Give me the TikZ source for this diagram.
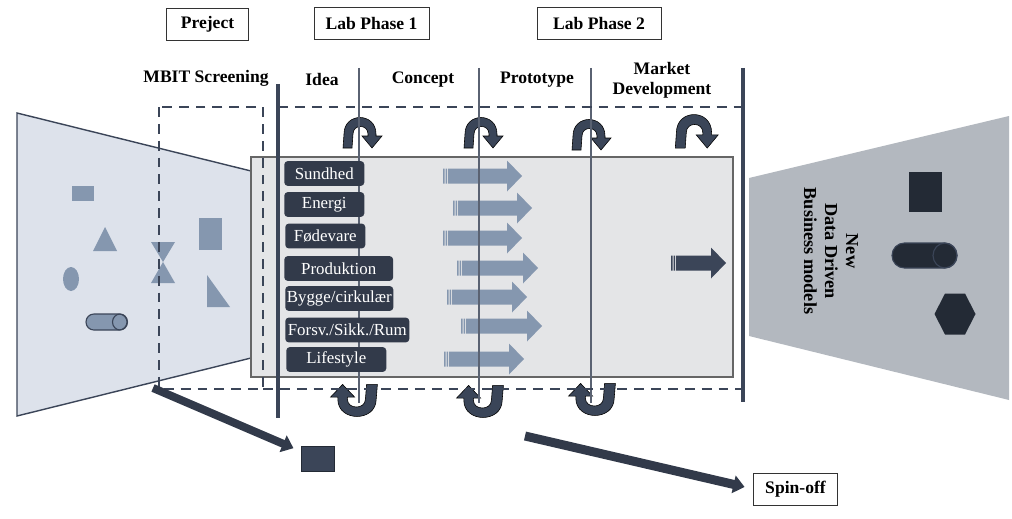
\documentclass[tikz,border=0pt]{standalone}
\usepackage{fontspec}
\setmainfont{Liberation Serif}
\usetikzlibrary{arrows.meta}
\definecolor{navy}{HTML}{323A4A}
\definecolor{navyline}{HTML}{3B4558}
\definecolor{steel}{HTML}{8597AF}
\definecolor{paleblue}{HTML}{DDE2EB}
\definecolor{boxgray}{HTML}{E4E5E7}
\definecolor{slate}{HTML}{B3B8BF}
\definecolor{ink}{HTML}{232A35}
\definecolor{turncol}{HTML}{3A4558}
\definecolor{thinline}{HTML}{5A6272}
\tikzset{
 topic/.style={fill=navy, text=white, rounded corners=2.5pt, anchor=west,
  minimum height=0.62cm, inner sep=0pt, font=\fontsize{12}{14}\selectfont},
 phasebox/.style={draw=black!80, line width=0.6pt, minimum height=0.78cm,
  inner sep=0pt, font=\fontsize{12.5}{15}\bfseries\selectfont},
 phase/.style={font=\fontsize{12.5}{14.2}\bfseries\selectfont, align=center},
 pics/stripe/.style={code={
  \fill (0,-7.5) rectangle (1.5,7.5) (2.5,-7.5) rectangle (4,7.5);
  \fill (5,-7.5) -- (#1-15,-7.5) -- (#1-15,-15.5) -- (#1,0) -- (#1-15,15.5)
   -- (#1-15,7.5) -- (5,7.5) -- cycle;}}
}
\begin{document}
\begin{tikzpicture}[x=0.025cm,y=-0.025cm,
 uturn/.pic={\filldraw[fill=turncol,draw=black,line width=0.4pt]
  (-17,31) -- (-16,17) .. controls (-16,-5) and (16,-5) .. (16,17) -- (16,19)
  -- (22,19) -- (12,31) -- (2,19) -- (8,19) -- (8,17)
  .. controls (8,7) and (-7,7) .. (-7,17) -- (-8,31) -- cycle;}]
 \useasboundingbox (0,0) rectangle (1012,519);
 % funnels
 \filldraw[fill=paleblue,draw=navyline,line width=1pt]
  (17,113) -- (251,171) -- (251,358) -- (17,416) -- cycle;
 \fill[slate] (749,178) -- (1009,116) -- (1009,400) -- (749,336) -- cycle;
 % ideas going in
 \begin{scope}[steel]
 \fill (72,186) rectangle (94,201);
 \fill (105,227) -- (117,251) -- (93,251) -- cycle;
 \fill (71,279) ellipse [x radius=8,y radius=12];
 \fill (151,242) -- (175,242) -- (163,262) -- cycle;
 \fill (163,262) -- (175,283) -- (151,283) -- cycle;
 \fill (199,218) rectangle (222,250);
 \fill (207,275) -- (230,307) -- (207,307) -- cycle;
 \filldraw[draw=navyline,line width=0.8pt,rounded corners=5.6pt] (86,314) rectangle (127,330);
 \draw[navyline,line width=0.8pt] (120,322) ellipse [x radius=7.5,y radius=8];
 \end{scope}
 % models coming out
 \fill[ink] (909,172) rectangle (942,212);
 \filldraw[fill=ink,draw=navyline,line width=0.8pt,rounded corners=8.8pt] (892,243) rectangle (957,268);
 \draw[navyline,line width=0.8pt] (945,255.5) ellipse [x radius=12,y radius=12.5];
 \fill[ink] (934.5,314) -- (945,293.5) -- (965,293.5) -- (975.5,314)
  -- (965,334.5) -- (945,334.5) -- cycle;
 \node[rotate=-90,align=center,font=\fontsize{13}{15}\bfseries\selectfont]
  (ddbm) at (831,251) {New\\Data Driven\\Business models};
 % lab
 \filldraw[fill=boxgray,draw=black!60,line width=0.8pt] (251,157) rectangle (733,377);
 \begin{scope}[color=steel]
 \pic at (443,176) {stripe=79};
 \pic at (453,208) {stripe=79};
 \pic at (443,238) {stripe=79};
 \pic at (457,268) {stripe=81};
 \pic at (447,297) {stripe=80};
 \pic at (461,326) {stripe=81};
 \pic at (444,359) {stripe=80};
 \end{scope}
 \pic[color=navyline] at (671,263) {stripe=55};
 \path
 (360,117) pic {uturn}
 (481,117) pic {uturn}
 (589,119) pic {uturn}
 (694,114) pic[scale=1.1] {uturn}
 (357,417) pic[rotate=180,xscale=1.2,yscale=1.05] {uturn}
 (483,418) pic[rotate=180,xscale=1.2,yscale=1.05] {uturn}
 (595,416) pic[rotate=180,xscale=1.2,yscale=1.05] {uturn};
 \draw[thinline,line width=0.8pt]
  (359,68)--(359,403) (479,68)--(479,403) (591,68)--(591,403);
 \path
 (284,173.5) node[topic,minimum width=2cm] (sund) {Sundhed}
 (284,204.5) node[topic,minimum width=2cm] (ener) {Energi}
 (285,236) node[topic,minimum width=2cm] (fode) {Fødevare}
 (284,268.5) node[topic,minimum width=2.72cm] (prod) {Produktion}
 (285,298.5) node[topic,minimum width=2.7cm] (bygg) {Bygge/cirkulær}
 (285,330) node[topic,minimum width=3.1cm] (fors) {Forsv./Sikk./Rum}
 (286,359.5) node[topic,minimum width=2.5cm] (life) {Lifestyle};
 % phase borders
 \begin{scope}[navyline,line width=2.1pt,dash pattern=on 7pt off 5pt]
 \draw (159,107) rectangle (263,389);
 \draw (278,107) -- (743,107);
 \draw (263,389) -- (743,389);
 \end{scope}
 \draw[navyline,line width=2.8pt] (278,84) -- (278,418) (743,68) -- (743,402);
 \path
 (206,78) node[phase] (mbit) {MBIT Screening}
 (322,79) node[phase] (idea) {Idea}
 (423,80) node[phase] (conc) {Concept}
 (537,80) node[phase] (prot) {Prototype}
 (662,80) node[phase] (mark) {Market\\Development};
 \node[phasebox,minimum width=2.03cm,minimum height=0.8cm] (proj) at (207.5,24) {Preject};
 \node[phasebox,minimum width=2.875cm] (lab1) at (371.5,23.5) {Lab Phase 1};
 \node[phasebox,minimum width=3.1cm] (lab2) at (599,23.5) {Lab Phase 2};
 \node[phasebox,minimum width=2.08cm,minimum height=0.8cm] (spin) at (795.5,489) {Spin-off};
 % outcomes
 \node[draw=ink,fill=navyline,line width=0.6pt,minimum width=0.825cm,
  minimum height=0.625cm,inner sep=0pt] (cube) at (317.5,458.5) {};
 \coordinate (mbitfoot) at (153,388);
 \coordinate (spinfoot) at (525,436);
 \begin{scope}[navy,-{Triangle[length=8pt,width=12.5pt]}]
 \draw[line width=5.7pt,shorten >=5.5pt] (mbitfoot) -- (cube);
 \draw[line width=6.4pt,shorten >=6.5pt] (spinfoot) -- (spin.west);
 \end{scope}
\end{tikzpicture}
\end{document}
